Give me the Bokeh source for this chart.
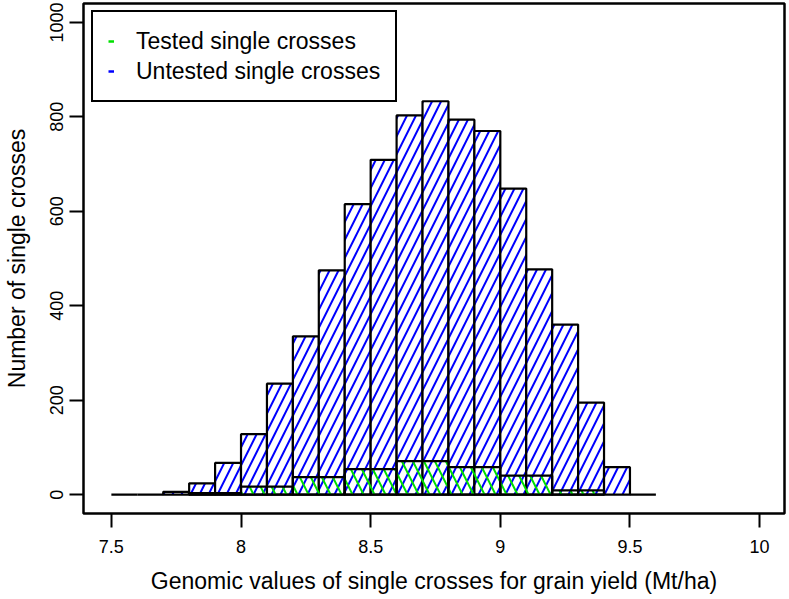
from bokeh.plotting import figure
from bokeh.models import FixedTicker, Range1d, Legend, LegendItem
from bokeh.embed import file_html
from bokeh.resources import INLINE

# ---- data ----
untested_edges = [7.5, 7.6, 7.7, 7.8, 7.9, 8.0, 8.1, 8.2, 8.3, 8.4, 8.5,
                  8.6, 8.7, 8.8, 8.9, 9.0, 9.1, 9.2, 9.3, 9.4, 9.5, 9.6]
untested_counts = [0, 0, 6, 24, 67, 128, 235, 335, 475, 615, 709,
                   803, 833, 794, 770, 648, 477, 360, 195, 58, 0]

tested_edges = [7.8, 8.0, 8.2, 8.4, 8.6, 8.8, 9.0, 9.2, 9.4]
tested_counts = [3, 17, 37, 54, 71, 58, 40, 9]

x_ticks = [7.5, 8, 8.5, 9, 9.5, 10]
x_tick_labels = ["7.5", "8", "8.5", "9", "9.5", "10"]
y_ticks = [0, 200, 400, 600, 800, 1000]
y_tick_labels = ["0", "200", "400", "600", "800", "1000"]

series_labels = ["Tested single crosses", "Untested single crosses"]
x_title = "Genomic values of single crosses for grain yield (Mt/ha)"
y_title = "Number of single crosses"

FONT = "Liberation Sans"
BLUE = "#0000ff"
GREEN = "#00e000"
NAN = float("nan")

p = figure(width=789, height=599, output_backend="svg", toolbar_location=None,
           x_range=Range1d(7.3925, 10.096), y_range=Range1d(-40, 1040),
           min_border_left=80, min_border_right=5, min_border_top=3,
           min_border_bottom=86)

p.background_fill_color = "white"
p.border_fill_color = "white"
p.outline_line_color = "black"
p.outline_line_width = 2.5
p.xgrid.visible = False
p.ygrid.visible = False

# untested histogram
p.quad(left=untested_edges[:-1], right=untested_edges[1:],
       top=untested_counts, bottom=0,
       fill_color="white", fill_alpha=1.0,
       hatch_pattern="/", hatch_color=BLUE, hatch_scale=18, hatch_weight=2,
       line_color="black", line_width=2.2)

# tested histogram
p.quad(left=tested_edges[:-1], right=tested_edges[1:],
       top=tested_counts, bottom=0,
       fill_color="white", fill_alpha=0.0,
       hatch_pattern="\\", hatch_color=GREEN, hatch_scale=22, hatch_weight=2,
       line_color="black", line_width=2.2)

# axes
for ax in (p.xaxis[0], p.yaxis[0]):
    ax.axis_line_color = None
    ax.major_tick_out = 14
    ax.major_tick_in = 0
    ax.major_tick_line_width = 2
    ax.major_tick_line_color = "black"
    ax.minor_tick_line_color = None
    ax.major_label_text_font = FONT
    ax.major_label_text_font_size = "18px"
    ax.major_label_text_color = "black"
    ax.axis_label_text_font = FONT
    ax.axis_label_text_font_size = "23px"
    ax.axis_label_text_font_style = "normal"
    ax.axis_label_text_color = "black"

p.xaxis.ticker = FixedTicker(ticks=x_ticks)
p.xaxis.major_label_overrides = dict(zip(x_ticks, x_tick_labels))
p.xaxis.major_label_standoff = 12
p.xaxis.axis_label = x_title
p.xaxis.axis_label_standoff = 12

p.yaxis.ticker = FixedTicker(ticks=y_ticks)
p.yaxis.major_label_overrides = dict(zip(y_ticks, y_tick_labels))
p.yaxis.major_label_orientation = "vertical"
p.yaxis.major_label_standoff = 6
p.yaxis.axis_label = y_title
p.yaxis.axis_label_standoff = 18

# legend (proxy renderers that draw nothing in the plot area)
r_t = p.line(x=[NAN], y=[NAN], line_color=GREEN, line_width=2.5)
r_u = p.line(x=[NAN], y=[NAN], line_color=BLUE, line_width=2.5)
legend = Legend(items=[LegendItem(label=series_labels[0], renderers=[r_t]),
                       LegendItem(label=series_labels[1], renderers=[r_u])],
                location=(8, 411),
                padding=15, spacing=2, margin=0,
                glyph_width=6, glyph_height=28, label_height=28,
                label_standoff=22,
                label_text_font=FONT, label_text_font_size="23px",
                label_text_color="black",
                border_line_color="black", border_line_width=2,
                border_line_alpha=1.0,
                background_fill_color="white", background_fill_alpha=1.0)
p.add_layout(legend)

open("out.html", "w").write(file_html(p, INLINE))
